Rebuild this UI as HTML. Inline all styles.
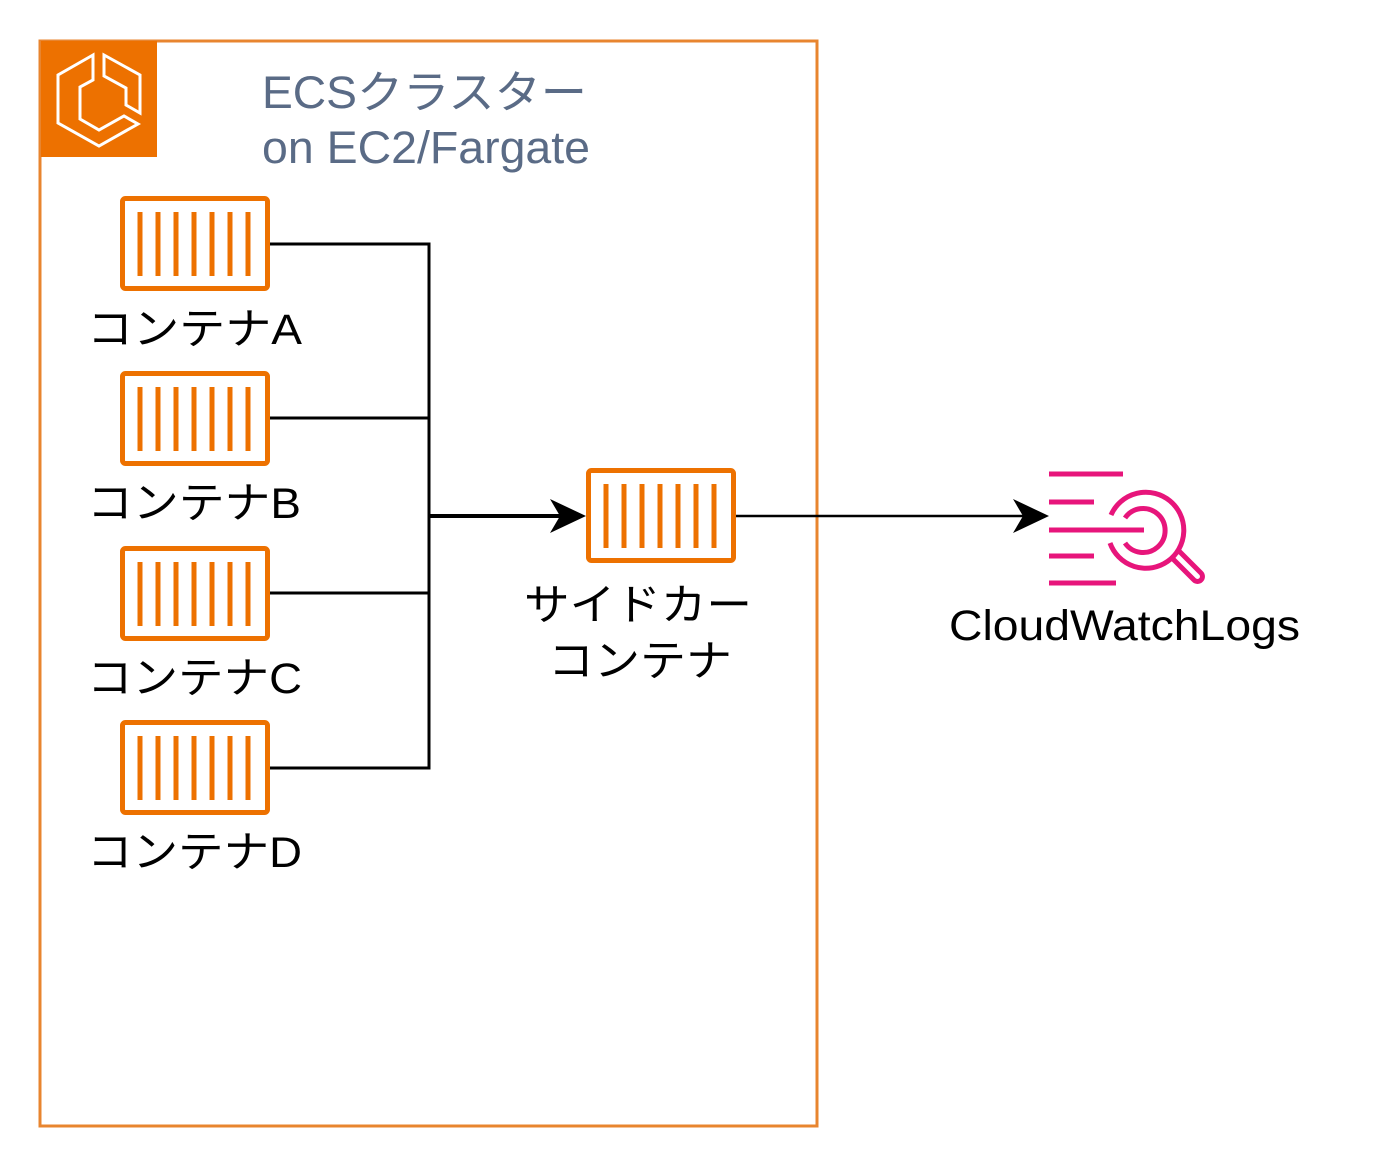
<!DOCTYPE html>
<html><head><meta charset="utf-8"><style>
html,body{margin:0;padding:0;background:#fff;}
svg{display:block}
text{font-family:"Liberation Sans","Noto Sans CJK JP",sans-serif;}
</style></head><body>
<svg width="1400" height="1167" viewBox="0 0 1400 1167" xmlns="http://www.w3.org/2000/svg">
<defs>
<g id="ct">
<rect x="2.5" y="2.5" width="145" height="90" rx="3" fill="#fff" stroke="#ED7100" stroke-width="5"/>
<g stroke="#ED7100" stroke-width="5">
<line x1="20" y1="16" x2="20" y2="80"/><line x1="38" y1="16" x2="38" y2="80"/><line x1="56" y1="16" x2="56" y2="80"/><line x1="74" y1="16" x2="74" y2="80"/><line x1="92" y1="16" x2="92" y2="80"/><line x1="110" y1="16" x2="110" y2="80"/><line x1="128" y1="16" x2="128" y2="80"/>
</g>
</g>
</defs>
<rect x="40" y="41" width="777" height="1085" fill="#fff" stroke="#E8852F" stroke-width="3"/>
<rect x="41" y="41" width="116" height="116" fill="#ED7100"/>
<g fill="none" stroke="#fff" stroke-width="3" stroke-linejoin="miter">
<path d="M93 55 L58 75 L58 123 L99 146 L138 124 L124 116 L99 130 L80 119 L80 87 L93 80 Z"/>
<path d="M104 55 L140 75 L140 113 L126 105 L126 88 L104 76 Z"/>
</g>
<text x="262" y="108" font-size="45" fill="#5A6B86" textLength="325" lengthAdjust="spacingAndGlyphs">ECSクラスター</text>
<text x="262" y="163" font-size="45" fill="#5A6B86" textLength="328" lengthAdjust="spacingAndGlyphs">on EC2/Fargate</text>
<g stroke="#000" stroke-width="3" fill="none">
<polyline points="270,244 429,244 429,768 270,768"/>
<line x1="270" y1="418" x2="429" y2="418"/>
<line x1="270" y1="593" x2="429" y2="593"/>
<line x1="429" y1="516" x2="560" y2="516" stroke-width="4"/>
<line x1="736" y1="516" x2="1025" y2="516" stroke-width="2.5"/>
</g>
<path d="M586 516 L550 499 L560 516 L550 533 Z" fill="#000"/>
<path d="M1049 516 L1013 499 L1023 516 L1013 533 Z" fill="#000"/>
<use href="#ct" x="120" y="196"/>
<use href="#ct" x="120" y="371"/>
<use href="#ct" x="120" y="546"/>
<use href="#ct" x="120" y="720"/>
<use href="#ct" x="586" y="468"/>
<g font-size="43" fill="#000">
<text x="87" y="344" textLength="215" lengthAdjust="spacingAndGlyphs">コンテナA</text>
<text x="87" y="518" textLength="214" lengthAdjust="spacingAndGlyphs">コンテナB</text>
<text x="87" y="693" textLength="215" lengthAdjust="spacingAndGlyphs">コンテナC</text>
<text x="87" y="867" textLength="215" lengthAdjust="spacingAndGlyphs">コンテナD</text>
<text x="524" y="620" textLength="228" lengthAdjust="spacingAndGlyphs">サイドカー</text>
<text x="548" y="676" textLength="184" lengthAdjust="spacingAndGlyphs">コンテナ</text>
<text x="949" y="640" textLength="351" lengthAdjust="spacingAndGlyphs">CloudWatchLogs</text>
</g>
<g stroke="#E7157B" stroke-width="5" fill="none">
<line x1="1049" y1="474" x2="1123" y2="474"/>
<line x1="1049" y1="502" x2="1094" y2="502"/>
<line x1="1049" y1="530" x2="1144" y2="530"/>
<line x1="1049" y1="556" x2="1094" y2="556"/>
<line x1="1049" y1="583" x2="1116" y2="583"/>
<path d="M1110 543 A38 38 0 1 0 1111 515"/>
<path d="M1125 518 A22 22 0 1 1 1125 543"/>
<path d="M1172 558 L1194 580 A4.5 4.5 0 0 0 1201 573 L1179 551"/>
</g>
</svg>
</body></html>
